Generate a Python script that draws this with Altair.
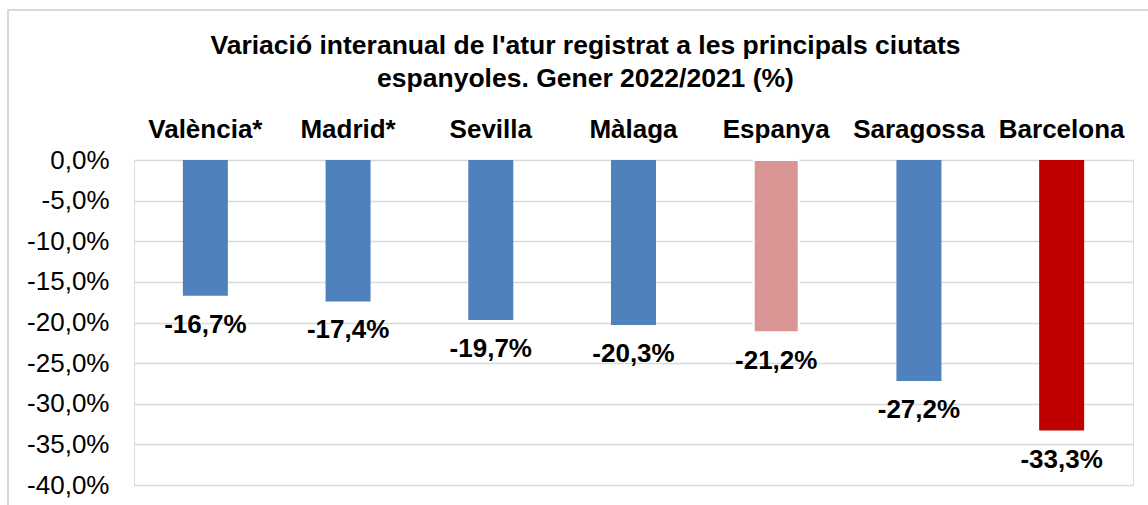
import altair as alt
import pandas as pd

cities = ["València*", "Madrid*", "Sevilla", "Màlaga", "Espanya", "Saragossa", "Barcelona"]
values = [-16.7, -17.4, -19.7, -20.3, -21.2, -27.2, -33.3]
groups = ["ciutat", "ciutat", "ciutat", "ciutat", "Espanya", "ciutat", "Barcelona"]
y_ticks = [0, -5, -10, -15, -20, -25, -30, -35, -40]

title_line1 = "Variació interanual de l'atur registrat a les principals ciutats"
title_line2 = "espanyoles. Gener 2022/2021 (%)"

df = pd.DataFrame({"ciutat": cities, "valor": values, "grup": groups})
df["etiqueta"] = df["valor"].map(lambda v: ("-" if v < 0 else "") + f"{abs(v):.1f}".replace(".", ",") + "%")

FONT = "Liberation Sans"

x_enc = alt.X(
    "ciutat:N",
    sort=cities,
    scale=alt.Scale(paddingInner=0, paddingOuter=0),
    axis=alt.Axis(
        orient="top", title=None, labelAngle=0, labelFontSize=26, labelFontWeight="bold",
        labelFont=FONT, labelColor="black", labelBaseline="alphabetic", labelPadding=23,
        ticks=False, tickSize=0, domain=False, labelOverlap=False, grid=False,
    ),
)
y_enc = alt.Y(
    "valor:Q",
    scale=alt.Scale(domain=[-40, 0], nice=False, zero=True),
    axis=alt.Axis(
        title=None, values=y_ticks, labelFontSize=26, labelFont=FONT, labelColor="black",
        labelPadding=25, ticks=False, tickSize=0, domain=False, grid=True,
        gridColor="#d9d9d9", gridWidth=1.5,
        labelExpr="(datum.value < 0 ? '-' : '') + replace(format(abs(datum.value), '.1f'), '.', ',') + '%'",
    ),
)

base = alt.Chart(df)

bars = base.mark_bar(width=45).encode(
    x=x_enc,
    y=y_enc,
    color=alt.Color(
        "grup:N",
        scale=alt.Scale(domain=["ciutat", "Espanya", "Barcelona"], range=["#4f81bd", "#d99594", "#c00000"]),
        legend=None,
    ),
    stroke=alt.condition("datum.grup == 'Espanya'", alt.value("white"), alt.value("transparent")),
    strokeWidth=alt.condition("datum.grup == 'Espanya'", alt.value(2), alt.value(0)),
)

labels = base.mark_text(
    dy=37, baseline="alphabetic", align="center", fontSize=26, fontWeight="bold", font=FONT, color="black"
).encode(x=alt.X("ciutat:N", sort=cities), y="valor:Q", text="etiqueta:N")

border = alt.Chart(pd.DataFrame({"a": [0]})).mark_rect(
    fill="transparent", stroke="#d9d9d9", strokeWidth=2
).encode(x=alt.value(-126), x2=alt.value(1030), y=alt.value(-150), y2=alt.value(400))

chart = alt.layer(border, bars, labels).properties(
    width=999,
    height=325,
    padding={"left": 134, "top": 160, "right": 15, "bottom": 20},
    autosize=alt.AutoSizeParams(type="none"),
    title=alt.TitleParams(
        text=[title_line1, title_line2],
        fontSize=26.5, font=FONT, fontWeight="bold", color="black",
        anchor="middle", dx=-48, lineHeight=33, offset=-110, baseline="bottom",
    ),
).configure_view(strokeWidth=0).configure(background="white")

chart.save("out.html", embed_options={"renderer": "svg", "actions": False})
